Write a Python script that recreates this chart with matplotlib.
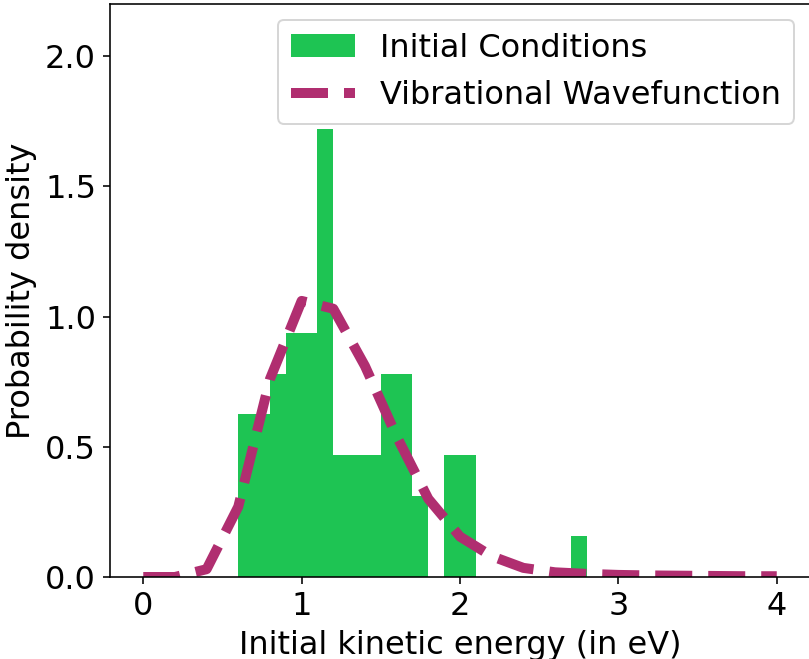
import matplotlib
matplotlib.use("Agg")
import matplotlib.pyplot as plt

# histogram: bin edges (eV) and sample counts per bin (N = 64)
BIN_EDGES = [0.6, 0.7, 0.8, 0.9, 1.0, 1.1, 1.2, 1.3, 1.4, 1.5, 1.6, 1.7,
             1.8, 1.9, 2.0, 2.1, 2.2, 2.3, 2.4, 2.5, 2.6, 2.7, 2.8]
BIN_COUNTS = [4, 4, 5, 6, 6, 11, 3, 3, 3, 5, 5, 2,
              0, 3, 3, 0, 0, 0, 0, 0, 0, 1]

# vibrational wavefunction density
WF_ENERGY = [0.0, 0.2, 0.4, 0.6, 0.8, 1.0, 1.2, 1.4, 1.6, 1.8, 2.0,
             2.2, 2.4, 2.6, 2.8, 3.0, 3.2, 3.4, 3.6, 3.8, 4.0]
WF_DENSITY = [0.0, 0.0, 0.03, 0.27, 0.76, 1.06, 1.03, 0.81, 0.54, 0.30, 0.155,
              0.08, 0.035, 0.018, 0.012, 0.008, 0.006, 0.005, 0.004, 0.003, 0.003]

GREEN = "#1ec453"
MAGENTA = "#b02e70"
DPI = 144
W, H = 809, 659

plt.rcParams["font.size"] = 16

fig = plt.figure(figsize=(W / DPI, H / DPI), dpi=DPI)
# axes runs slightly past the right edge, as in the reference crop
ax = fig.add_axes([110 / W, 82 / H, 700 / W, 573 / H])

centers = [(a + b) / 2 for a, b in zip(BIN_EDGES[:-1], BIN_EDGES[1:])]
ax.hist(centers, bins=BIN_EDGES, weights=BIN_COUNTS, density=True,
        color=GREEN, label="Initial Conditions")
ax.plot(WF_ENERGY, WF_DENSITY, ls="--", lw=5, color=MAGENTA,
        label="Vibrational Wavefunction")

ax.set_xlim(-0.21, 4.21)
ax.set_ylim(0, 2.2)
ax.set_xticks([0, 1, 2, 3, 4])
ax.set_yticks([0.0, 0.5, 1.0, 1.5, 2.0])
ax.set_xlabel("Initial kinetic energy (in eV)")
ax.set_ylabel("Probability density")
ax.legend(loc="upper right")

fig.savefig("out.png", dpi=DPI)
